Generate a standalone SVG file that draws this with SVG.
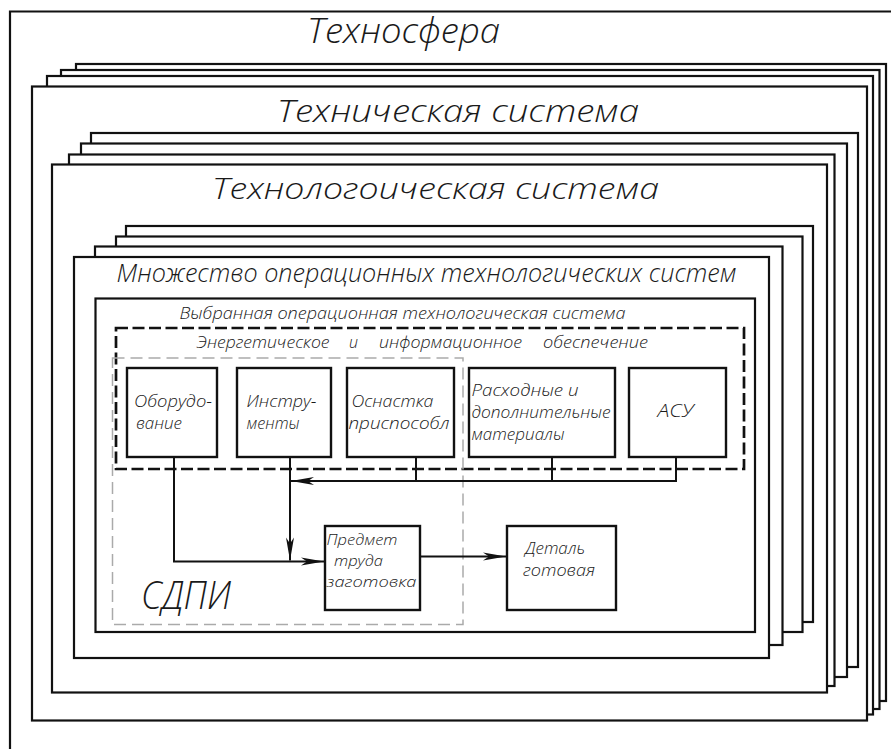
<svg xmlns="http://www.w3.org/2000/svg" width="891" height="749" viewBox="0 0 891 749">
<style>
.fr{fill:#fff;stroke:#111;stroke-width:2.2}
.bx{fill:#fff;stroke:#111;stroke-width:2.4}
.t{font-family:"Open Sans","Liberation Sans","DejaVu Sans",sans-serif;font-style:italic;font-weight:300;fill:#1a1a1a}
.c{fill:none;stroke:#111;stroke-width:2}
</style>
<defs>
<marker id="arr" markerUnits="userSpaceOnUse" markerWidth="26" markerHeight="12" refX="24" refY="6" orient="auto">
<path d="M1,2 L24,6 L1,10 L7,6 Z" fill="#111"/>
</marker>
</defs>
<rect width="891" height="749" fill="#fff"/>
<g id="technosphere">
<path d="M10,749 V11.5 H891" fill="none" stroke="#111" stroke-width="2.2"/>
<text class="t" x="307" y="43" font-size="35" textLength="193" lengthAdjust="spacingAndGlyphs">Техносфера</text>
</g>
<g id="tech-system">
<rect class="fr" x="76" y="64" width="810" height="637"/>
<rect class="fr" x="61" y="70" width="818.5" height="639"/>
<rect class="fr" x="47" y="76" width="826" height="638.5"/>
<rect class="fr" x="32" y="86.5" width="835" height="634"/>
<text class="t" x="277" y="121.5" font-size="32" textLength="362" lengthAdjust="spacingAndGlyphs">Техническая система</text>
</g>
<g id="technological-system">
<rect class="fr" x="91" y="133" width="767" height="534"/>
<rect class="fr" x="81" y="143.5" width="766" height="533.5"/>
<rect class="fr" x="69" y="154.5" width="765.5" height="531.5"/>
<rect class="fr" x="52" y="164.5" width="775" height="528"/>
<text class="t" x="212" y="199" font-size="30" textLength="447" lengthAdjust="spacingAndGlyphs">Технологоическая система</text>
</g>
<g id="operational-systems">
<rect class="fr" x="126" y="226" width="687" height="396"/>
<rect class="fr" x="116" y="236.5" width="686.5" height="395.5"/>
<rect class="fr" x="95" y="246.5" width="687.5" height="398.5"/>
<rect class="fr" x="74" y="257" width="695" height="401"/>
<text class="t" x="116.5" y="282" font-size="26" textLength="620" lengthAdjust="spacingAndGlyphs">Множество операционных технологических систем</text>
</g>
<g id="selected-system">
<rect class="fr" x="95.5" y="298.5" width="659.5" height="333.5"/>
<text class="t" x="179.5" y="318.5" font-size="16" textLength="446" lengthAdjust="spacingAndGlyphs">Выбранная операционная технологическая система</text>
</g>
<g id="energy-info">
<rect x="116" y="328" width="628" height="141" fill="none" stroke="#111" stroke-width="2.7" stroke-dasharray="12 4.5"/>
<text class="t" font-size="16" y="347.5"><tspan x="196.5" textLength="133" lengthAdjust="spacingAndGlyphs">Энергетическое</tspan><tspan x="349" textLength="9" lengthAdjust="spacingAndGlyphs">и</tspan><tspan x="379" textLength="143" lengthAdjust="spacingAndGlyphs">информационное</tspan><tspan x="543" textLength="105" lengthAdjust="spacingAndGlyphs">обеспечение</tspan></text>
</g>
<g id="sdpi">
<rect x="112.5" y="358" width="350.5" height="266.5" fill="none" stroke="#aaa" stroke-width="1.5" stroke-dasharray="12 6"/>
<text class="t" x="141" y="609" font-size="38" textLength="90" lengthAdjust="spacingAndGlyphs">СДПИ</text>
</g>
<g id="equipment">
<rect class="bx" x="127" y="368" width="90" height="89"/>
<text class="t" font-size="16"><tspan x="134" y="407" textLength="78" lengthAdjust="spacingAndGlyphs">Оборудо-</tspan><tspan x="136" y="429" textLength="46" lengthAdjust="spacingAndGlyphs">вание</tspan></text>
</g>
<g id="tools">
<rect class="bx" x="237" y="368" width="94" height="89"/>
<text class="t" font-size="16"><tspan x="246.5" y="407" textLength="70" lengthAdjust="spacingAndGlyphs">Инстру-</tspan><tspan x="246.5" y="429" textLength="53" lengthAdjust="spacingAndGlyphs">менты</tspan></text>
</g>
<g id="fixtures">
<rect class="bx" x="347" y="368" width="107" height="89"/>
<text class="t" font-size="16"><tspan x="351.5" y="407" textLength="82" lengthAdjust="spacingAndGlyphs">Оснастка</tspan><tspan x="348.5" y="429" textLength="101" lengthAdjust="spacingAndGlyphs">приспособл</tspan></text>
</g>
<g id="materials">
<rect class="bx" x="469" y="368" width="146" height="89"/>
<text class="t" font-size="16"><tspan x="471.5" y="396" textLength="107" lengthAdjust="spacingAndGlyphs">Расходные и</tspan><tspan x="471.5" y="418" textLength="139" lengthAdjust="spacingAndGlyphs">дополнительные</tspan><tspan x="471.5" y="440" textLength="93" lengthAdjust="spacingAndGlyphs">материалы</tspan></text>
</g>
<g id="asu">
<rect class="bx" x="629" y="368" width="97" height="89"/>
<text class="t" x="657.5" y="417" font-size="18" textLength="36" lengthAdjust="spacingAndGlyphs">АСУ</text>
</g>
<g id="workpiece">
<rect class="bx" x="325" y="526" width="95" height="84"/>
<text class="t" font-size="15"><tspan x="326.5" y="545" textLength="71" lengthAdjust="spacingAndGlyphs">Предмет</tspan><tspan x="334" y="566" textLength="49" lengthAdjust="spacingAndGlyphs">труда</tspan><tspan x="326.5" y="587" textLength="90" lengthAdjust="spacingAndGlyphs">заготовка</tspan></text>
</g>
<g id="part">
<rect class="bx" x="507" y="526" width="109" height="84"/>
<text class="t" font-size="16"><tspan x="525" y="554" textLength="60" lengthAdjust="spacingAndGlyphs">Деталь</tspan><tspan x="523" y="576" textLength="72" lengthAdjust="spacingAndGlyphs">готовая</tspan></text>
</g>
<g id="connectors">
<path class="c" d="M174,457 V561.5 H324" marker-end="url(#arr)"/>
<path class="c" d="M290,457 V560.5" marker-end="url(#arr)"/>
<path class="c" d="M676,457 V481 H291" marker-end="url(#arr)"/>
<path class="c" d="M416,457 V481"/>
<path class="c" d="M552,457 V481"/>
<path class="c" d="M420,556.5 H506" marker-end="url(#arr)"/>
</g>
</svg>
